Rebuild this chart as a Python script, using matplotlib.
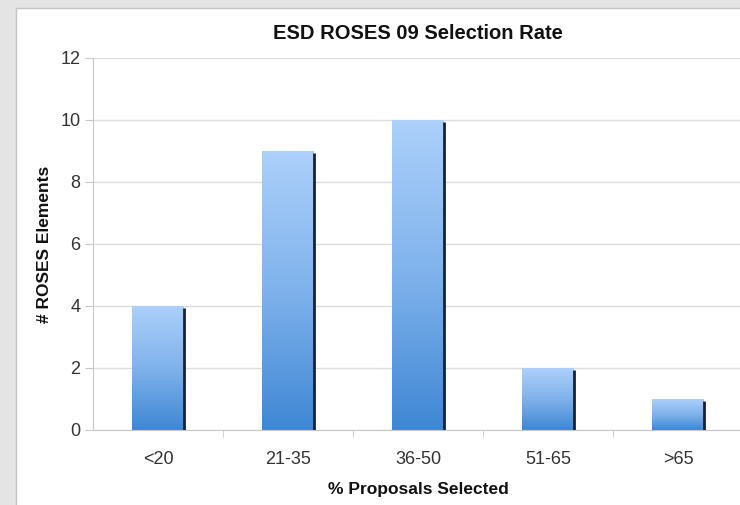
import numpy as np
import matplotlib
matplotlib.use('Agg')
import matplotlib.pyplot as plt
from matplotlib.colors import LinearSegmentedColormap
from matplotlib.patches import Rectangle

plt.rcParams['font.family'] = ['Liberation Sans', 'DejaVu Sans']

# ── Data ──────────────────────────────────────────────────────────────────────
categories = ['<20', '21-35', '36-50', '51-65', '>65']
counts = [4, 9, 10, 2, 1]
yticks = [0, 2, 4, 6, 8, 10, 12]

W, H = 740, 505
fig = plt.figure(figsize=(W / 100, H / 100), dpi=100)
fig.patch.set_facecolor('#e4e4e4')

# white chart panel
fig.add_artist(Rectangle((16 / W, -0.01), 1.0, 1 - 8 / H + 0.01, transform=fig.transFigure,
                         facecolor='white', edgecolor='#c4c4c4', lw=1.0, zorder=0))

ax = fig.add_axes([93 / W, 1 - 430 / H, 1 - 93 / W + 0.004, 372 / H])
ax.set_facecolor('white')

x = np.arange(len(categories))
bars = ax.bar(x, counts, width=0.4, facecolor='none', edgecolor='none', zorder=2)

grad = np.linspace(0, 1, 256).reshape(-1, 1)
cmap = LinearSegmentedColormap.from_list('bar', ['#3f87d4', '#7fb2ec', '#acd0fa'])
for p in bars:
    x0, w, h = p.get_x(), p.get_width(), p.get_height()
    im = ax.imshow(grad, extent=[x0, x0 + w, 0, h], origin='lower', cmap=cmap,
                   aspect='auto', zorder=2, interpolation='bilinear')
    im.set_clip_path(p)
    # dark shadow line on the right edge
    ax.plot([x0 + w, x0 + w], [0, h - 0.08], color='#14233a', lw=2.0,
            solid_capstyle='butt', zorder=3)

ax.set_xlim(-0.5, 4.5)
ax.set_ylim(0, 12)
ax.set_yticks(yticks)
ax.set_xticks(x)
ax.set_xticklabels(categories)
ax.set_xticks(np.arange(0.5, len(categories) - 0.5, 1.0), minor=True)

ax.yaxis.grid(True, color='#dcdcdc', lw=1.0, zorder=0)
ax.set_axisbelow(True)
for s in ['top', 'right']:
    ax.spines[s].set_visible(False)
ax.spines['left'].set_color('#c8c8c8')
ax.spines['bottom'].set_color('#c8c8c8')

ax.tick_params(axis='y', length=6, color='#c8c8c8', labelsize=13, labelcolor='#333333', pad=3)
ax.tick_params(axis='x', which='major', length=0, labelsize=13, labelcolor='#333333', pad=15)
ax.tick_params(axis='x', which='minor', length=5, color='#c8c8c8')

ax.set_title('ESD ROSES 09 Selection Rate', fontsize=14.5, fontweight='bold',
             color='#111111', pad=14)
ax.set_xlabel('% Proposals Selected', fontsize=12.5, fontweight='bold', color='#111111', labelpad=10)
ax.set_ylabel('# ROSES Elements', fontsize=12.5, fontweight='bold', color='#111111', labelpad=6)

fig.savefig('out.png', dpi=100, facecolor=fig.get_facecolor())
plt.close(fig)
